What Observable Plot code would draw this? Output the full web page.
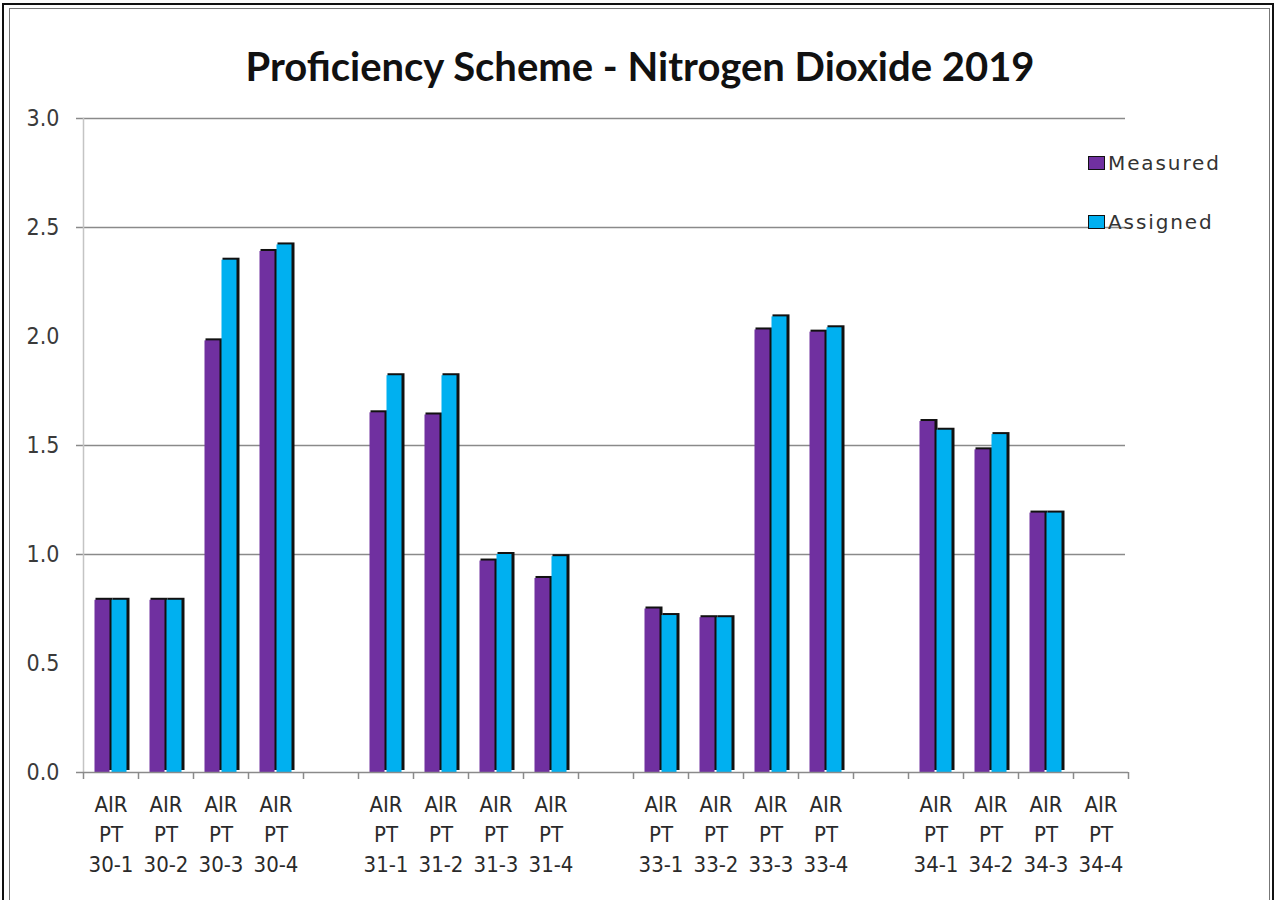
<!DOCTYPE html>
<html>
<head>
<meta charset="utf-8">
<script src="https://cdn.jsdelivr.net/npm/d3@7"></script>
<script src="https://cdn.jsdelivr.net/npm/@observablehq/plot@0.6"></script>
<style>
  html, body { margin: 0; padding: 0; background: #fff; }
  #page { position: relative; width: 1280px; height: 900px; overflow: hidden; background: #fff; }
  #outer { position: absolute; left: 2px; top: 3px; width: 1272px; height: 920px; border: 2px solid #111; box-sizing: border-box; }
  #inner { position: absolute; left: 9px; top: 8px; width: 1261px; height: 920px; border: 1px solid #777; box-sizing: border-box; }
  #title { position: absolute; left: 0; top: 0; width: 1280px; height: 100px; text-align: center;
           font-family: Lato, "Open Sans", sans-serif; font-weight: bold; font-size: 40px; color: #111;
           padding-top: 44px; box-sizing: border-box; line-height: 44px; }
  #chart { position: absolute; left: 0; top: 100px; }
  .legend { position: absolute; left: 1088px; font-family: "DejaVu Sans", sans-serif; font-size: 20px; letter-spacing: 1.9px; color: #333; white-space: nowrap; }
  .legend .sw { display: inline-block; width: 15px; height: 12px; border: 1.5px solid #111; vertical-align: middle; margin-right: 3px; position: relative; top: -2px; }
</style>
</head>
<body>
<div id="page">
  <div id="outer"></div>
  <div id="inner"></div>
  <div id="title">Proficiency Scheme - Nitrogen Dioxide 2019</div>
  <div id="chart"></div>
  <div id="legend"></div>
</div>
<script>
// ---- data ----
const title = "Proficiency Scheme - Nitrogen Dioxide 2019";
const rounds = ["30", "31", "33", "34"];
const samples = ["30-1","30-2","30-3","30-4","31-1","31-2","31-3","31-4","33-1","33-2","33-3","33-4","34-1","34-2","34-3","34-4"];
const measured = [0.79, 0.79, 1.98, 2.39, 1.65, 1.64, 0.97, 0.89, 0.75, 0.71, 2.03, 2.02, 1.61, 1.48, 1.19, null];
const assigned = [0.79, 0.79, 2.35, 2.42, 1.82, 1.82, 1.00, 0.99, 0.72, 0.71, 2.09, 2.04, 1.57, 1.55, 1.19, null];
const seriesNames = ["Measured", "Assigned"];
const seriesColors = ["#7030A0", "#00B0F0"];
const yTicks = [0, 0.5, 1.0, 1.5, 2.0, 2.5, 3.0];
const gridValues = [1.0, 1.5, 2.5, 3.0];

// x domain: samples with an empty slot between rounds
const domain = [];
rounds.forEach((r, i) => {
  if (i > 0) domain.push("gap" + i);
  samples.filter(s => s.startsWith(r + "-")).forEach(s => domain.push(s));
});

const rows = [];
samples.forEach((s, i) => {
  if (measured[i] != null) rows.push({sample: s, series: "Measured", value: measured[i]});
  if (assigned[i] != null) rows.push({sample: s, series: "Assigned", value: assigned[i]});
});

const W = 1280, H = 800;
const mL = 83, mR = 152, mT = 18, mB = 128;
const step = (W - mL - mR) / domain.length;
const barW = 17;
const half = step / 2;

const font = '"Liberation Sans Narrow", "Arial Narrow", "DejaVu Sans Condensed", sans-serif';

const chart = Plot.plot({
  width: W, height: H,
  marginLeft: mL, marginRight: mR, marginTop: mT, marginBottom: mB,
  style: {fontFamily: font, background: "transparent"},
  x: {type: "band", domain, padding: 0, axis: null, label: null},
  y: {domain: [0, 3], axis: null, label: null},
  marks: [
    Plot.ruleY(gridValues, {y: d => d, stroke: "#8a8a8a", strokeWidth: 1.5, insetLeft: -7, insetRight: 3}),
    Plot.frame({anchor: "left", stroke: "#c4c4c4", strokeWidth: 1.5}),
    // dark top/right edges of bars
    Plot.barY(rows.filter(d => d.series === "Measured"), {x: "sample", y: "value", fill: "#111",
      insetLeft: half - barW + 2, insetRight: half - 2, dy: -2}),
    Plot.barY(rows.filter(d => d.series === "Assigned"), {x: "sample", y: "value", fill: "#111",
      insetLeft: half + 2, insetRight: half - barW - 2, dy: -2}),
    Plot.barY(rows.filter(d => d.series === "Measured"), {x: "sample", y: "value", fill: seriesColors[0],
      insetLeft: half - barW + 1, insetRight: half + 1}),
    Plot.barY(rows.filter(d => d.series === "Assigned"), {x: "sample", y: "value", fill: seriesColors[1],
      insetLeft: half + 1, insetRight: half - barW + 1}),
    Plot.ruleY([0], {stroke: "#8a8a8a", strokeWidth: 1.5, insetLeft: -7, insetRight: 0}),
    // category boundary ticks
    Plot.ruleX(domain, {x: d => d, y1: 0, y2: -0.032, dx: -half, stroke: "#8a8a8a", strokeWidth: 1.5}),
    Plot.ruleX(domain.slice(-1), {x: d => d, y1: 0, y2: -0.032, dx: half, stroke: "#8a8a8a", strokeWidth: 1.5}),
    Plot.axisY(yTicks, {tickSize: 0, tickPadding: 24, tickFormat: d3.format(".1f"), label: null,
      fontSize: 23, fill: "#3a3a3a", fontFamily: font}),
    Plot.axisX(domain, {tickSize: 0, tickPadding: 18, fontSize: 22, fill: "#2a2a2a", fontFamily: font,
      lineHeight: 1.36, label: null,
      tickFormat: d => d.startsWith("gap") ? "" : `AIR\nPT\n${d}`})
  ]
});
document.getElementById("chart").appendChild(chart);

// legend
const leg = document.getElementById("legend");
const legendTops = [151, 210];
seriesNames.forEach((name, i) => {
  const div = document.createElement("div");
  div.className = "legend";
  div.style.top = legendTops[i] + "px";
  const sw = document.createElement("span");
  sw.className = "sw";
  sw.style.background = seriesColors[i];
  div.appendChild(sw);
  div.appendChild(document.createTextNode(name));
  leg.appendChild(div);
});
</script>
</body>
</html>
